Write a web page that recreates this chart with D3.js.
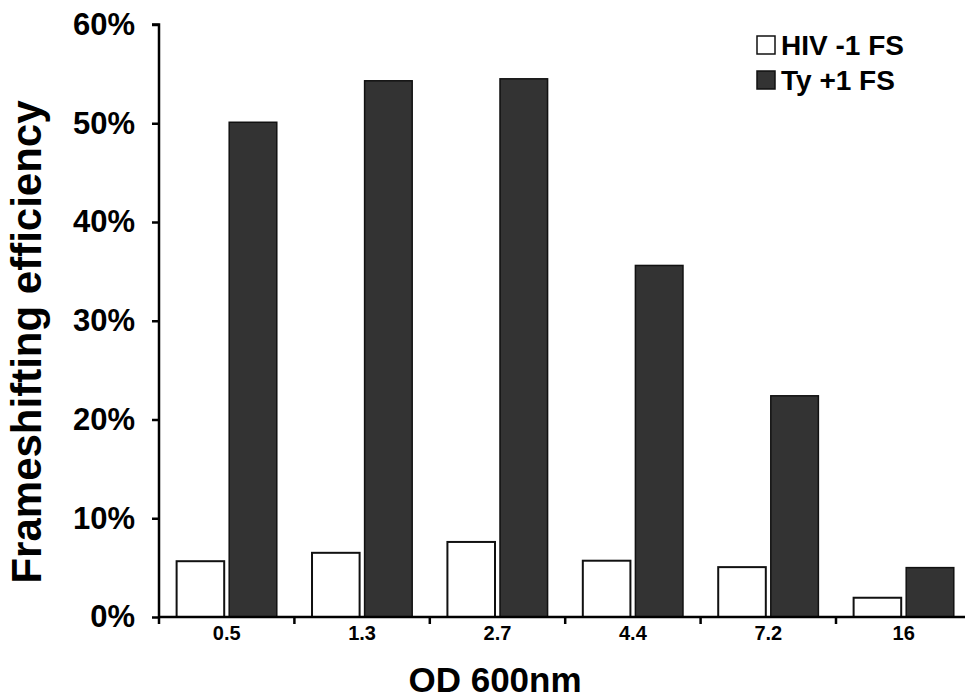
<!DOCTYPE html>
<html lang="en">
  <head>
    <meta charset="utf-8">
    <title>Frameshifting efficiency</title>
    <script src="https://d3js.org/d3.v7.js"></script>
    <style>
      body { margin: 0; background: #fff; }
      text { font-family: "Liberation Sans", Arial, sans-serif; font-weight: bold; fill: #000; }
    </style>
  </head>
  <body>
    <script>
    // values (percent)
    var odLabels = ["0.5", "1.3", "2.7", "4.4", "7.2", "16"]
    var seriesNames = ["HIV -1 FS", "Ty +1 FS"]
    var hivValues = [5.65, 6.5, 7.6, 5.7, 5.05, 1.95]
    var tyValues = [50.1, 54.3, 54.5, 35.6, 22.4, 5.0]
    var yTicks = [0, 10, 20, 30, 40, 50, 60]

    var fills = ["#ffffff", "#333333"]

    var svg = d3.select("body").append("svg")
      .attr("width", 965)
      .attr("height", 700);

    var x = d3.scaleBand()
      .domain(odLabels)
      .range([159, 159 + 6 * 135.4])
      .padding(0);

    var xSub = d3.scaleBand()
      .domain(seriesNames)
      .range([0, x.bandwidth()])
      .paddingInner(0.095)
      .paddingOuter(0.335);

    var y = d3.scaleLinear()
      .domain([0, 60])
      .range([617, 24.5]);

    var rows = odLabels.map((d, i) => ({od: d, vals: [hivValues[i], tyValues[i]]}));

    // bars
    var groups = svg.append("g").attr("id", "bars")
      .selectAll("g")
      .data(rows)
      .enter()
      .append("g")
      .attr("transform", d => "translate(" + x(d.od) + ",0)");

    groups.selectAll("rect")
      .data(d => d.vals.map((v, j) => ({name: seriesNames[j], v: v, j: j})))
      .enter()
      .append("rect")
      .attr("x", d => xSub(d.name))
      .attr("y", d => y(d.v))
      .attr("width", xSub.bandwidth())
      .attr("height", d => y(0) - y(d.v))
      .attr("fill", d => fills[d.j])
      .attr("stroke", "#111")
      .attr("stroke-width", d => d.j == 0 ? 2 : 1.5);

    // y axis
    var yAxis = svg.append("g")
      .attr("transform", "translate(159,0)")
      .call(d3.axisLeft(y).tickValues(yTicks).tickSize(7).tickPadding(17)
        .tickFormat(d => d + "%"));
    yAxis.select(".domain").attr("stroke", "#000").attr("stroke-width", 2.5)
      .attr("d", "M-7," + y(60) + "H0V" + y(0));
    yAxis.selectAll(".tick line").attr("stroke", "#000").attr("stroke-width", 2.5);
    yAxis.selectAll(".tick text")
      .style("font-size", "31px")
      .style("font-family", "Liberation Sans, Arial, sans-serif")
      .style("font-weight", "bold")
      .attr("fill", "#000");

    // x axis
    var xAxis = svg.append("g")
      .attr("transform", "translate(0," + y(0) + ")");
    xAxis.append("line")
      .attr("x1", 159).attr("x2", 965)
      .attr("y1", 0).attr("y2", 0)
      .attr("stroke", "#000").attr("stroke-width", 2.5);
    xAxis.selectAll("line.tk")
      .data(odLabels)
      .enter()
      .append("line")
      .attr("class", "tk")
      .attr("x1", d => x(d)).attr("x2", d => x(d))
      .attr("y1", 0).attr("y2", 7)
      .attr("stroke", "#000").attr("stroke-width", 2.5);
    xAxis.selectAll("text")
      .data(odLabels)
      .enter()
      .append("text")
      .attr("x", d => x(d) + x.bandwidth() / 2)
      .attr("y", 23)
      .attr("text-anchor", "middle")
      .attr("font-size", "20px")
      .text(d => d);

    // axis titles
    svg.append("text")
      .attr("x", 495)
      .attr("y", 692)
      .attr("text-anchor", "middle")
      .attr("font-size", "35px")
      .text("OD 600nm");

    svg.append("text")
      .attr("transform", "translate(41,342) rotate(-90)")
      .attr("text-anchor", "middle")
      .attr("font-size", "42px")
      .text("Frameshifting efficiency");

    // legend
    var legend = svg.append("g").attr("id", "legend")
      .selectAll("g")
      .data(seriesNames)
      .enter()
      .append("g")
      .attr("transform", (d, i) => "translate(757," + (36 + i * 35) + ")");
    legend.append("rect")
      .attr("width", 18).attr("height", 18)
      .attr("fill", (d, i) => fills[i])
      .attr("stroke", "#111")
      .attr("stroke-width", 1.5);
    legend.append("text")
      .attr("x", 24)
      .attr("y", 19)
      .attr("font-size", "28px")
      .text(d => d);
    </script>
  </body>
</html>
